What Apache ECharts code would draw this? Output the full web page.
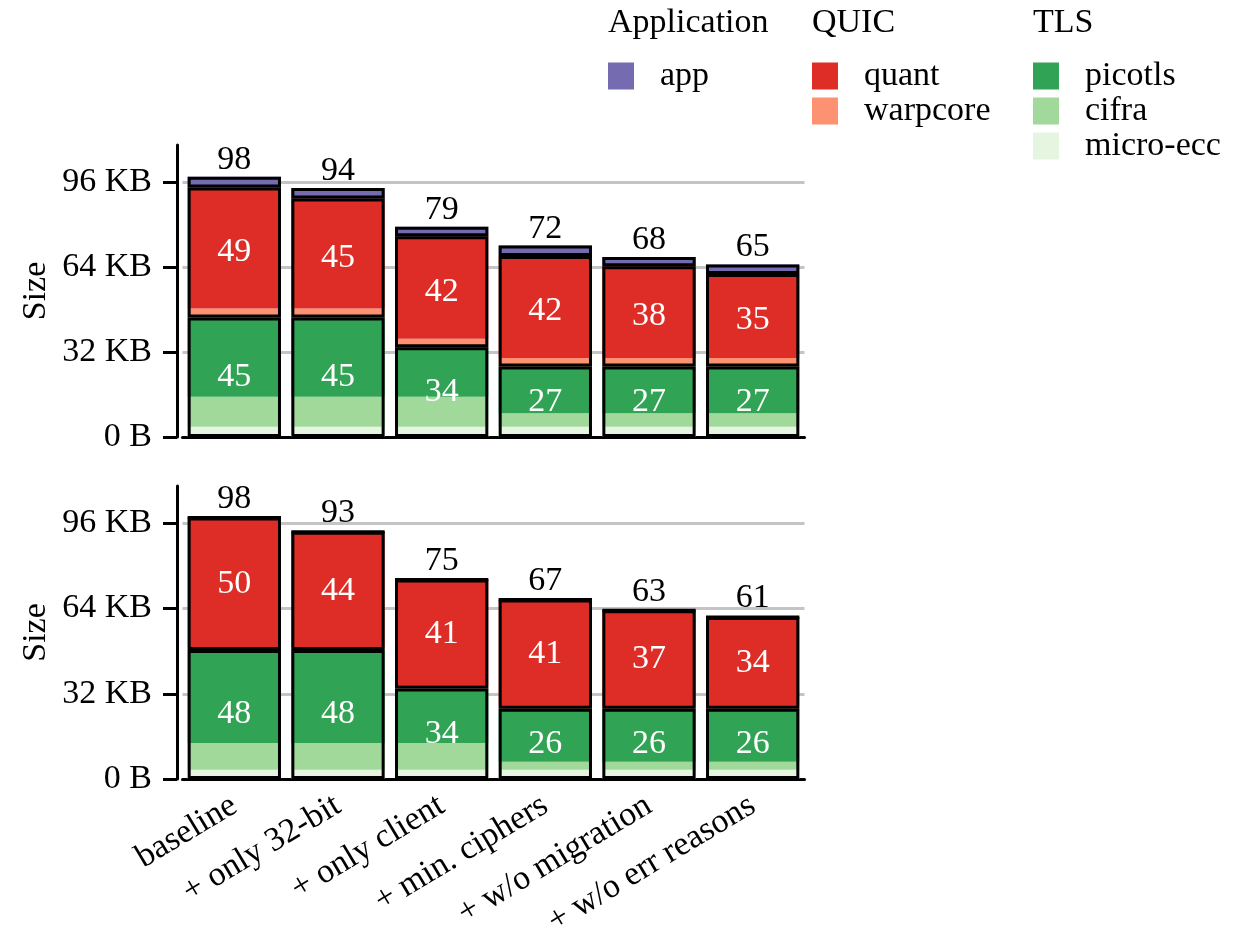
<!DOCTYPE html>
<html>
<head>
<meta charset="utf-8">
<script src="https://cdn.jsdelivr.net/npm/echarts@6/dist/echarts.min.js"></script>
<style>
  html, body { margin: 0; padding: 0; background: #fff; }
  #main_chart { width: 1244px; height: 937px; }
</style>
</head>
<body>
<div id="main_chart"></div>
<script>
var categories = ['baseline', '+ only 32-bit', '+ only client', '+ min. ciphers', '+ w/o migration', '+ w/o err reasons'];
var yTicks = [0, 32, 64, 96];

// top panel (KB)
var topApp      = [4.0, 4.0, 3.6, 3.9, 3.5, 3.6];
var topQuant    = [45.6, 41.4, 38.6, 38.4, 34.5, 31.6];
var topWarpcore = [3.4, 3.4, 3.2, 3.2, 3.2, 3.2];
var topPicotls  = [29.8, 29.8, 18.6, 17.7, 17.7, 17.7];
var topCifra    = [11.3, 11.3, 11.3, 5.0, 5.0, 5.0];
var topMicroEcc = [3.9, 3.9, 3.9, 3.9, 3.9, 3.9];

// bottom panel (KB)
var botApp      = [0, 0, 0, 0, 0, 0];
var botQuant    = [48.8, 43.4, 39.9, 40.0, 36.0, 33.4];
var botWarpcore = [1.0, 1.0, 1.0, 1.0, 1.0, 1.0];
var botPicotls  = [34.9, 34.9, 20.5, 19.9, 19.9, 19.9];
var botCifra    = [10.0, 10.0, 10.0, 3.0, 3.0, 3.0];
var botMicroEcc = [3.5, 3.5, 3.5, 3.5, 3.5, 3.5];

var colors = {
    'app': '#756bb1', 'quant': '#de2d26', 'warpcore': '#fc9272',
    'picotls': '#31a354', 'cifra': '#a1d99b', 'micro-ecc': '#e5f5e0'
};
var FONT = 'Liberation Serif';
var FSIZE = 34;

var sumArr = function(){
    var arrs = arguments;
    return arrs[0].map(function(v, i){
        var s = 0;
        for (var k = 0; k < arrs.length; k++) s += arrs[k][i];
        return s;
    });
};

var makePanel = function(idx, d){
    var tls = sumArr(d.micro, d.cifra, d.picotls);
    var quic = sumArr(d.warpcore, d.quant);
    var total = sumArr(tls, quic, d.app);
    var list = [];
    var fills = [
        ['micro-ecc', d.micro], ['cifra', d.cifra], ['picotls', d.picotls],
        ['warpcore', d.warpcore], ['quant', d.quant], ['app', d.app]
    ];
    fills.forEach(function(f){
        list.push({
            name: f[0], type: 'bar', stack: 'fill' + idx,
            xAxisIndex: idx, yAxisIndex: idx,
            barGap: '-100%', barCategoryGap: '10%',
            itemStyle: { color: colors[f[0]] },
            data: f[1]
        });
    });
    var inLabel = {
        show: true, position: 'inside', color: '#fff',
        fontFamily: FONT, fontSize: FSIZE,
        formatter: function(p){ return Math.round(p.value); }
    };
    var outline = { color: 'rgba(0,0,0,0)', borderColor: '#000', borderWidth: 3 };
    list.push({
        name: 'tls-outline' + idx, type: 'bar', stack: 'outline' + idx,
        xAxisIndex: idx, yAxisIndex: idx, barGap: '-100%', barCategoryGap: '10%',
        itemStyle: outline, label: inLabel, data: tls
    });
    list.push({
        name: 'quic-outline' + idx, type: 'bar', stack: 'outline' + idx,
        xAxisIndex: idx, yAxisIndex: idx, barGap: '-100%', barCategoryGap: '10%',
        itemStyle: outline, label: inLabel, data: quic
    });
    list.push({
        name: 'app-outline' + idx, type: 'bar', stack: 'outline' + idx,
        xAxisIndex: idx, yAxisIndex: idx, barGap: '-100%', barCategoryGap: '10%',
        itemStyle: outline,
        label: {
            show: true, position: 'top', distance: 0, color: '#000',
            fontFamily: FONT, fontSize: FSIZE,
            formatter: function(p){ return Math.round(total[p.dataIndex]); }
        },
        data: d.app
    });
    return list;
};

var series = makePanel(0, {
    app: topApp, quant: topQuant, warpcore: topWarpcore,
    picotls: topPicotls, cifra: topCifra, micro: topMicroEcc
}).concat(makePanel(1, {
    app: botApp, quant: botQuant, warpcore: botWarpcore,
    picotls: botPicotls, cifra: botCifra, micro: botMicroEcc
}));

var yAxisOpt = function(idx){
    return {
        type: 'value', gridIndex: idx, min: 0, max: 110, interval: 32, offset: 5.5,
        name: 'Size', nameLocation: 'middle', nameGap: 124,
        nameTextStyle: { fontFamily: FONT, fontSize: FSIZE, color: '#000' },
        axisLine: { show: true, lineStyle: { color: '#000', width: 3 } },
        axisTick: { show: true, length: 14, customValues: yTicks, lineStyle: { color: '#000', width: 3 } },
        axisLabel: {
            customValues: yTicks, margin: 25,
            fontFamily: FONT, fontSize: FSIZE, color: '#000',
            formatter: function(v){ return v === 0 ? '0 B' : v + ' KB'; }
        },
        splitLine: { show: true, showMinLine: false, showMaxLine: true, lineStyle: { color: '#c4c4c4', width: 3 } }
    };
};

var xAxisOpt = function(idx, showLabel){
    return {
        type: 'category', gridIndex: idx, data: categories,
        axisLine: { lineStyle: { color: '#000', width: 3 } },
        axisTick: { alignWithLabel: true, length: 13, lineStyle: { color: '#000', width: 3 } },
        axisLabel: {
            show: showLabel, rotate: 31, margin: 24, interval: 0,
            fontFamily: FONT, fontSize: FSIZE, color: '#000'
        }
    };
};

var legendOpt = function(left, names){
    return {
        left: left, top: 59, orient: 'vertical', padding: 0,
        itemWidth: 26, itemHeight: 27, itemGap: 1, icon: 'rect',
        selectedMode: false,
        textStyle: { fontFamily: FONT, fontSize: FSIZE, color: '#000', lineHeight: 27, padding: [0, 0, 0, 21] },
        data: names
    };
};

var titleOpt = function(left, text){
    return {
        text: text, left: left, top: 6, padding: 0,
        textStyle: { fontFamily: FONT, fontSize: FSIZE, fontWeight: 'normal', color: '#000' }
    };
};

var chartOpt = {
    backgroundColor: '#fff',
    animation: false,
    title: [titleOpt(608, 'Application'), titleOpt(812, 'QUIC'), titleOpt(1033, 'TLS')],
    legend: [
        legendOpt(608, ['app']),
        legendOpt(812, ['quant', 'warpcore']),
        legendOpt(1033, ['picotls', 'cifra', 'micro-ecc'])
    ],
    grid: [
        { left: 182.5, right: 439.5, top: 145, bottom: 500, outerBoundsMode: 'none', containLabel: false },
        { left: 182.5, right: 439.5, top: 486, bottom: 158, outerBoundsMode: 'none', containLabel: false }
    ],
    xAxis: [xAxisOpt(0, false), xAxisOpt(1, true)],
    yAxis: [yAxisOpt(0), yAxisOpt(1)],
    series: series
};

var main_chart = echarts.init(document.getElementById('main_chart'));
main_chart.setOption(chartOpt);
</script>
</body>
</html>
